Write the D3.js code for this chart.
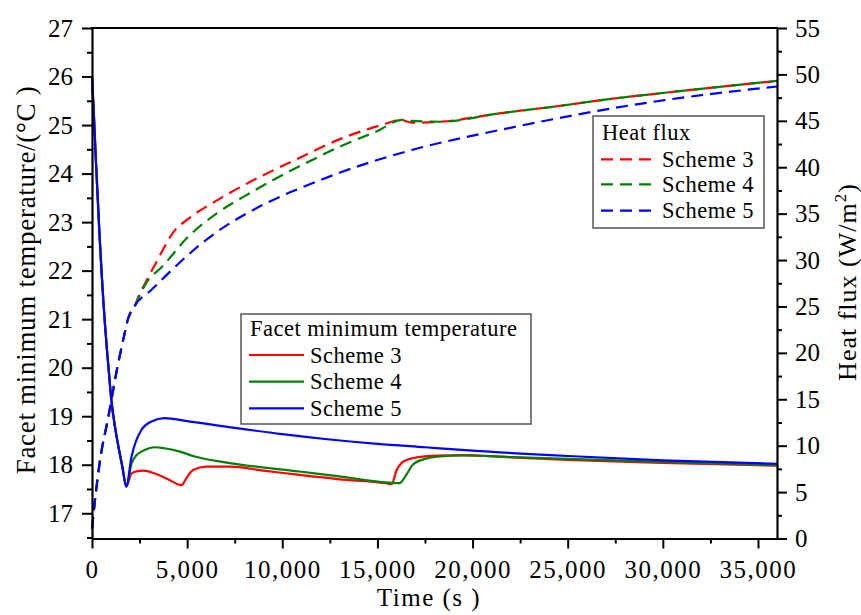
<!DOCTYPE html>
<html><head><meta charset="utf-8">
<script src="https://cdn.jsdelivr.net/npm/d3@7"></script>
<style>
body{margin:0;background:#fff;}
text{font-family:"Liberation Serif","Times New Roman",serif;fill:#000;}
</style></head>
<body><svg id="c" width="861" height="615"></svg>
<script>
// ---- data ----
const xTicks = [0,5000,10000,15000,20000,25000,30000,35000];
const leftTicks = [17,18,19,20,21,22,23,24,25,26,27];
const rightTicks = [0,5,10,15,20,25,30,35,40,45,50,55];
const schemes = ["Scheme 3","Scheme 4","Scheme 5"];
const colors = ["#ff0000","#008000","#0000ff"];

// common initial drop of minimum temperature (s, °C)
const tempCommonT = [0,100,200,300,400,500,600,700,800,900,1000,1200,1400,1600,1800];
const tempCommonV = [26.0,25.2,24.3,23.5,22.7,22.0,21.35,20.8,20.3,19.85,19.4,18.8,18.35,17.95,17.55];

const temp3T = [2080,2400,2700,3300,4000,4700,5000,5310,6000,7240,9000,10900,13000,15460,15750,16000,16300,16700,17200,18260,19500,22000,25000,30000,36000];
const temp3V = [17.82,17.87,17.88,17.82,17.7,17.58,17.75,17.89,17.96,17.96,17.88,17.79,17.7,17.62,17.6,17.88,18.05,18.12,18.16,18.19,18.2,18.15,18.1,18.04,17.98];

const temp4T = [2080,2300,2600,3000,3300,3800,4620,5400,7000,10900,13000,15630,16160,16500,16860,17500,18260,19500,22000,25000,30000,36000];
const temp4V = [18.03,18.18,18.27,18.34,18.36,18.34,18.27,18.17,18.05,17.86,17.76,17.63,17.62,17.78,18.0,18.12,18.17,18.19,18.16,18.12,18.06,17.99];

const temp5T = [2080,2600,3130,3800,5000,7500,10000,12500,15000,17500,20000,25000,30000,36000];
const temp5V = [18.17,18.72,18.89,18.96,18.9,18.76,18.63,18.52,18.43,18.36,18.29,18.18,18.09,18.02];

// heat flux (s, W/m2)
const fluxCommonT = [0,150,420,860,1300,1640,1900,2260];
const fluxCommonV = [1.0,4.0,8.4,13.1,18.1,21.4,23.7,25.1];

const flux3T = [2430,2870,3390,4350,4970,6540,8290,9860,10900,11400,13000,15300,16200,16800,18300,21400,24550,26650,30000,36000];
const flux3V = [26.0,27.8,29.8,33.2,34.3,36.4,38.4,40.0,41.0,41.5,43.0,44.6,45.1,44.8,44.9,45.8,46.6,47.2,48.0,49.3];

const flux4T = [2780,3740,5050,6540,8290,9860,10900,11300,13000,15000,16300,16800,18300,21400,24550,26650,30000,36000];
const flux4V = [27.3,29.4,32.5,35.0,37.2,39.0,40.1,40.5,42.2,43.9,45.1,45.0,44.9,45.8,46.6,47.2,48.0,49.3];

const flux5T = [3130,4180,5300,6540,8290,9860,10900,13000,16700,21400,24550,26650,30000,36000];
const flux5V = [26.8,28.9,31.0,33.0,35.2,36.8,37.7,39.4,41.8,44.0,45.3,46.1,47.2,48.7];

// ---- layout ----
const L=92, R=777, T=28, B=538.5;
const svg = d3.select("#c");
const x = d3.scaleLinear().domain([0,36000]).range([L,R]);
const yL = d3.scaleLinear().domain([16.48,27]).range([B,T]);
const yR = d3.scaleLinear().domain([0,55]).range([B,T]);

const zip = (ts,vs)=>ts.map((t,i)=>[t,vs[i]]);
const common = zip(tempCommonT,tempCommonV);
const tempSeries = [
  common.concat(zip(temp3T,temp3V)),
  common.concat(zip(temp4T,temp4V)),
  common.concat(zip(temp5T,temp5V))
];
const fc = zip(fluxCommonT,fluxCommonV);
const fluxSeries = [
  fc.concat(zip(flux3T,flux3V)),
  fc.concat(zip(flux4T,flux4V)),
  fc.concat(zip(flux5T,flux5V))
];

const lineL = d3.line().x(d=>x(d[0])).y(d=>yL(d[1])).curve(d3.curveMonotoneX);
const lineR = d3.line().x(d=>x(d[0])).y(d=>yR(d[1])).curve(d3.curveMonotoneX);

const plot = svg.append("g");
[0,1,2].forEach(i=>{
  plot.append("path").attr("d",lineR(fluxSeries[i])).attr("fill","none")
    .attr("stroke",colors[i]).attr("stroke-width",2.2).attr("stroke-dasharray","12,7");
});
[0,1,2].forEach(i=>{
  plot.append("path").attr("d",lineL(tempSeries[i])).attr("fill","none")
    .attr("stroke",colors[i]).attr("stroke-width",2.2);
});

// ---- axes ----
function styleAxis(g){
  g.select(".domain").attr("stroke","#000").attr("stroke-width",2.2);
  g.selectAll(".tick line").attr("stroke","#000").attr("stroke-width",2);
  g.selectAll(".tick text").style("font-family",'"Liberation Serif","Times New Roman",serif').style("font-size","25px").attr("fill","#000");
}
const xMinor = d3.range(2500,36000,5000);
const lMinor = d3.range(16.5,27,1);
const rMinor = d3.range(2.5,55,5);
function minor(g){g.select(".domain").remove();g.selectAll(".tick line").attr("stroke","#000").attr("stroke-width",2);}

const gx = svg.append("g").attr("transform",`translate(0,${B})`)
  .call(d3.axisBottom(x).tickValues(xTicks).tickFormat(d3.format(",")).tickSize(10).tickSizeOuter(0).tickPadding(12));
styleAxis(gx);
gx.selectAll(".tick text").style("letter-spacing","1.5px");
svg.append("g").attr("transform",`translate(0,${B})`)
  .call(d3.axisBottom(x).tickValues(xMinor).tickFormat("").tickSize(5).tickSizeOuter(0)).call(minor);

const gl = svg.append("g").attr("transform",`translate(${L},0)`)
  .call(d3.axisLeft(yL).tickValues(leftTicks).tickSize(10).tickSizeOuter(0).tickPadding(9));
styleAxis(gl);
svg.append("g").attr("transform",`translate(${L},0)`)
  .call(d3.axisLeft(yL).tickValues(lMinor).tickFormat("").tickSize(5).tickSizeOuter(0)).call(minor);

const gr = svg.append("g").attr("transform",`translate(${R},0)`)
  .call(d3.axisRight(yR).tickValues(rightTicks).tickSize(10).tickSizeOuter(0).tickPadding(8));
styleAxis(gr);
svg.append("g").attr("transform",`translate(${R},0)`)
  .call(d3.axisRight(yR).tickValues(rMinor).tickFormat("").tickSize(5).tickSizeOuter(0)).call(minor);

svg.append("line").attr("x1",L-1).attr("x2",R+1).attr("y1",T).attr("y2",T).attr("stroke","#000").attr("stroke-width",2.2);

// ---- axis titles ----
svg.append("text").attr("x",429).attr("y",606).attr("text-anchor","middle")
  .style("font-size","25px").style("letter-spacing","1.5px").text("Time (s )");
svg.append("text").attr("transform","translate(35,280) rotate(-90)").attr("text-anchor","middle")
  .style("font-size","27px").style("letter-spacing","0.7px").text("Facet minimum temperature/(°C )");
const rt = svg.append("text").attr("transform","translate(856,282) rotate(-90)").attr("text-anchor","middle")
  .style("font-size","26px").style("letter-spacing","1px");
rt.append("tspan").text("Heat flux (W/m");
rt.append("tspan").attr("dy",-10).style("font-size","17px").text("2");
rt.append("tspan").attr("dy",10).text(")");

// ---- legends ----
function legend(x0,y0,w,h,title,rows,dashed){
  const g = svg.append("g");
  g.append("rect").attr("x",x0).attr("y",y0).attr("width",w).attr("height",h)
    .attr("fill","#fff").attr("stroke","#555").attr("stroke-width",1.5);
  g.append("text").attr("x",x0+9).attr("y",rows.title).attr("dominant-baseline","central")
    .style("font-size","22.5px").style("letter-spacing","0.5px").text(title);
  schemes.forEach((s,i)=>{
    const yy = rows.ys[i];
    g.append("line").attr("x1",x0+8).attr("x2",x0+63).attr("y1",yy).attr("y2",yy)
      .attr("stroke",colors[i]).attr("stroke-width",2.2).attr("stroke-dasharray",dashed?"12,7":null);
    g.append("text").attr("x",x0+69).attr("y",yy).attr("dominant-baseline","central")
      .style("font-size","22.5px").style("letter-spacing","0.5px").text(s);
  });
}
legend(241,314,290,110,"Facet minimum temperature",{title:328.5,ys:[355,381.7,408.3]},false);
legend(593,116,171,112,"Heat flux",{title:132,ys:[159.3,184.3,210.7]},true);
</script></body></html>
